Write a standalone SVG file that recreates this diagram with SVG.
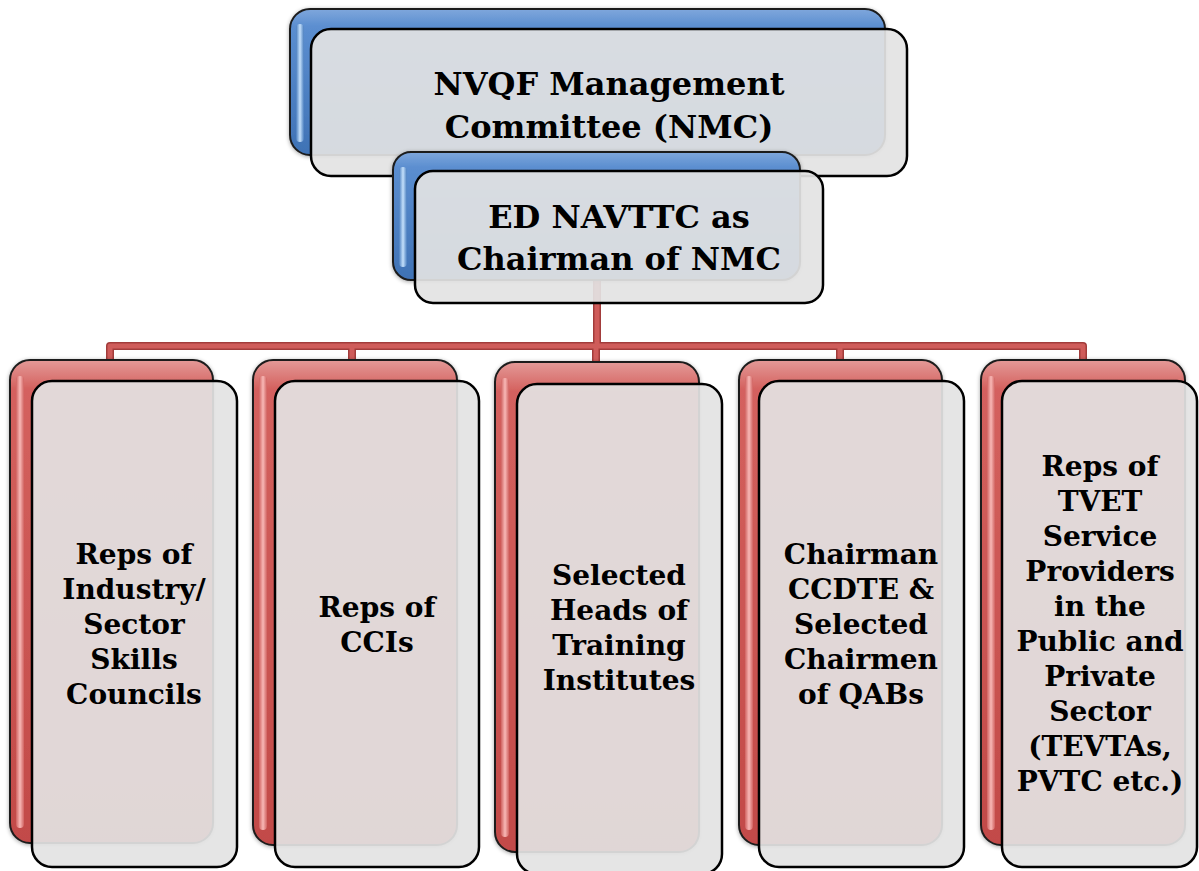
<svg xmlns="http://www.w3.org/2000/svg" width="1199" height="871" viewBox="0 0 1199 871">
  <defs>
    <linearGradient id="gBlue" x1="0" y1="0" x2="0" y2="1">
      <stop offset="0" stop-color="#7fa7dc"/>
      <stop offset="0.12" stop-color="#5b8ed0"/>
      <stop offset="1" stop-color="#3f72b5"/>
    </linearGradient>
    <linearGradient id="hlBlue" x1="0" y1="0" x2="1" y2="0">
      <stop offset="0" stop-color="#4a7ebf"/>
      <stop offset="0.5" stop-color="#c4e0fb"/>
      <stop offset="1" stop-color="#4a7ebf"/>
    </linearGradient>
    <linearGradient id="gRed" x1="0" y1="0" x2="0" y2="1">
      <stop offset="0" stop-color="#e49a98"/>
      <stop offset="0.06" stop-color="#d4615e"/>
      <stop offset="1" stop-color="#c24a48"/>
    </linearGradient>
    <linearGradient id="hlRed" x1="0" y1="0" x2="1" y2="0">
      <stop offset="0" stop-color="#d06260"/>
      <stop offset="0.5" stop-color="#f8b8b6"/>
      <stop offset="1" stop-color="#d06260"/>
    </linearGradient>
    <filter id="sh" x="-5%" y="-5%" width="110%" height="110%">
      <feGaussianBlur in="SourceAlpha" stdDeviation="2"/>
      <feOffset dx="0" dy="1"/>
      <feComponentTransfer><feFuncA type="linear" slope="0.35"/></feComponentTransfer>
      <feMerge><feMergeNode/><feMergeNode in="SourceGraphic"/></feMerge>
    </filter>
  </defs>
  <style>
    .backB{fill:url(#gBlue);stroke:#1c1c1c;stroke-width:2}
    .backR{fill:url(#gRed);stroke:#1c1c1c;stroke-width:2}
    .hlB{fill:url(#hlBlue)}
    .hlR{fill:url(#hlRed)}
    .front{fill:#e3e3e3;fill-opacity:0.92;stroke:#000;stroke-width:2.5}
    .t{font-family:"DejaVu Serif","Liberation Serif",serif;font-weight:bold;fill:#000;text-anchor:middle}
    .t1{font-size:32px}
    .t2{font-size:28px}
    .conO{fill:none;stroke:#a23c3b;stroke-width:8;stroke-linejoin:round}
    .conI{fill:none;stroke:#cf5c5a;stroke-width:5;stroke-linejoin:round}
  </style>
  <rect width="1199" height="871" fill="#ffffff"/>

  <g id="connectors">
    <path class="conO" d="M597,280 V346 M110,362 V346 H1083 V362 M352,362 V346 M596,362 V346 M840,362 V346"/>
    <path class="conI" d="M597,280 V346 M110,362 V346 H1083 V362 M352,362 V346 M596,362 V346 M840,362 V346"/>
  </g>

  <g id="node-nmc">
    <rect class="backB" x="290" y="9" width="595" height="146" rx="20" filter="url(#sh)"/>
    <rect class="hlB" x="296" y="24" width="8" height="118" rx="4"/>
    <rect class="front" x="311" y="29" width="596" height="147" rx="20"/>
    <text class="t t1" x="609" y="95">NVQF Management</text>
    <text class="t t1" x="609" y="138">Committee (NMC)</text>
  </g>

  <g id="node-chairman">
    <rect class="backB" x="393" y="152" width="407" height="128" rx="18" filter="url(#sh)"/>
    <rect class="hlB" x="399" y="167" width="8" height="100" rx="4"/>
    <rect class="front" x="415" y="171" width="408" height="132" rx="18"/>
    <text class="t t1" x="619" y="228">ED NAVTTC as</text>
    <text class="t t1" x="619" y="270">Chairman of NMC</text>
  </g>

  <g id="node-industry">
    <rect class="backR" x="10" y="360" width="203" height="483" rx="20" filter="url(#sh)"/>
    <rect class="hlR" x="16" y="376" width="8" height="452" rx="4"/>
    <rect class="front" x="32" y="381" width="205" height="486" rx="20"/>
    <text class="t t2" x="134" y="564">Reps of</text>
    <text class="t t2" x="134" y="599">Industry/</text>
    <text class="t t2" x="134" y="634">Sector</text>
    <text class="t t2" x="134" y="669">Skills</text>
    <text class="t t2" x="134" y="704">Councils</text>
  </g>

  <g id="node-ccis">
    <rect class="backR" x="253" y="360" width="204" height="485" rx="20" filter="url(#sh)"/>
    <rect class="hlR" x="259" y="376" width="8" height="454" rx="4"/>
    <rect class="front" x="275" y="381" width="204" height="486" rx="20"/>
    <text class="t t2" x="377" y="617">Reps of</text>
    <text class="t t2" x="377" y="652">CCIs</text>
  </g>

  <g id="node-institutes">
    <rect class="backR" x="495" y="362" width="204" height="490" rx="20" filter="url(#sh)"/>
    <rect class="hlR" x="501" y="378" width="8" height="459" rx="4"/>
    <rect class="front" x="517" y="384" width="205" height="490" rx="20"/>
    <text class="t t2" x="619" y="585">Selected</text>
    <text class="t t2" x="619" y="620">Heads of</text>
    <text class="t t2" x="619" y="655">Training</text>
    <text class="t t2" x="619" y="690">Institutes</text>
  </g>

  <g id="node-qabs">
    <rect class="backR" x="739" y="360" width="203" height="485" rx="20" filter="url(#sh)"/>
    <rect class="hlR" x="745" y="376" width="8" height="454" rx="4"/>
    <rect class="front" x="759" y="381" width="205" height="486" rx="20"/>
    <text class="t t2" x="861" y="564">Chairman</text>
    <text class="t t2" x="861" y="599">CCDTE &amp;</text>
    <text class="t t2" x="861" y="634">Selected</text>
    <text class="t t2" x="861" y="669">Chairmen</text>
    <text class="t t2" x="861" y="704">of QABs</text>
  </g>

  <g id="node-tvet">
    <rect class="backR" x="981" y="360" width="204" height="485" rx="20" filter="url(#sh)"/>
    <rect class="hlR" x="987" y="376" width="8" height="454" rx="4"/>
    <rect class="front" x="1002" y="381" width="195" height="486" rx="20"/>
    <text class="t t2" x="1100" y="476">Reps of</text>
    <text class="t t2" x="1100" y="511">TVET</text>
    <text class="t t2" x="1100" y="546">Service</text>
    <text class="t t2" x="1100" y="581">Providers</text>
    <text class="t t2" x="1100" y="616">in the</text>
    <text class="t t2" x="1100" y="651">Public and</text>
    <text class="t t2" x="1100" y="686">Private</text>
    <text class="t t2" x="1100" y="721">Sector</text>
    <text class="t t2" x="1100" y="756">(TEVTAs,</text>
    <text class="t t2" x="1100" y="791">PVTC etc.)</text>
  </g>
</svg>
